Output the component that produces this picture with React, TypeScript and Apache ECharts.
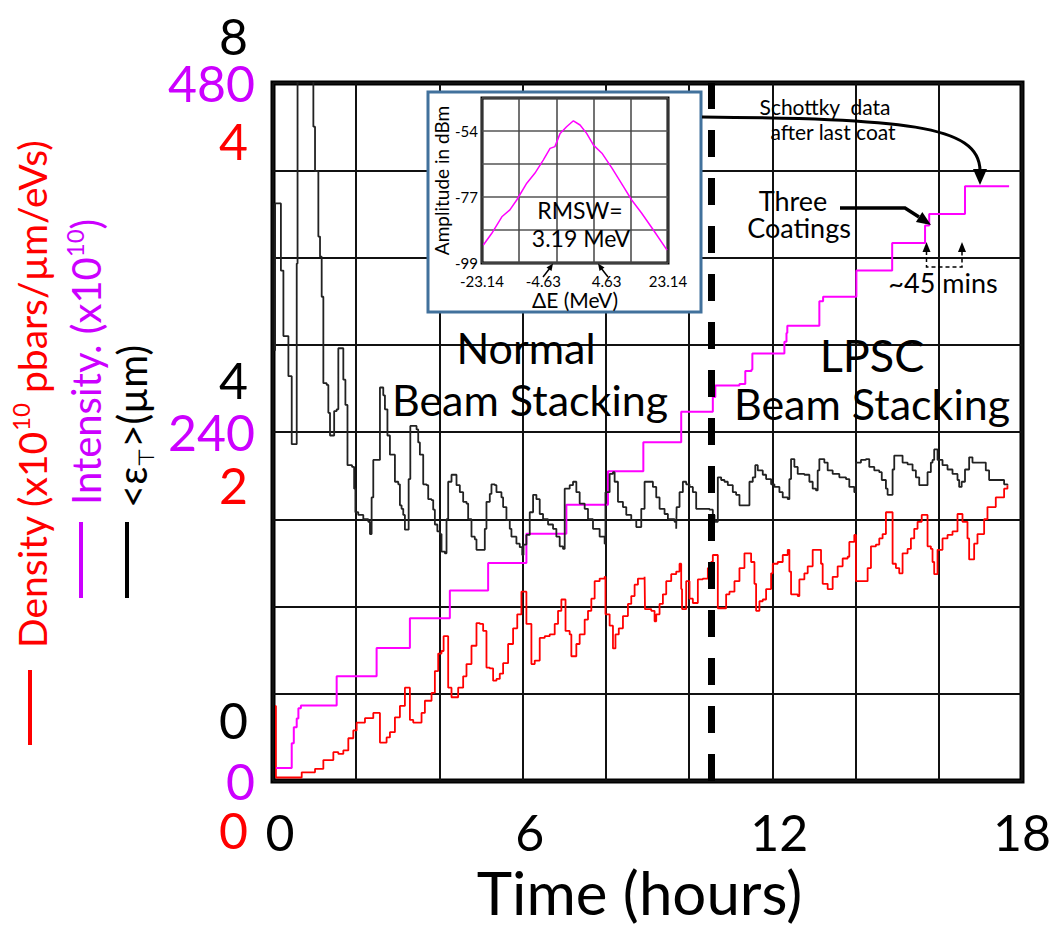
import React, { useEffect, useRef } from 'react';
import * as echarts from 'echarts';

const FONT = 'Lato, "Open Sans", sans-serif';

// ---- main chart ticks ----
const timeTickLabels = [0, 6, 12, 18];
const densityTickLabels = [0, 2, 4];
const intensityTickLabels = [0, 240, 480];
const emittanceTickLabels = [0, 4, 8];

// ---- main chart traces: [hours, value] ----
const densityTrace: [number, number][] = [
  [0.05, 0.43], [0.07, 0.02], [0.43, 0.02], [0.69, 0.05], [1.01, 0.07], [1.21, 0.12], [1.45, 0.165], [1.57, 0.155],
  [1.69, 0.175], [1.81, 0.245], [1.93, 0.29], [2.01, 0.335], [2.21, 0.36], [2.41, 0.39], [2.51, 0.39], [2.57, 0.22],
  [2.73, 0.25], [2.81, 0.28], [2.93, 0.365], [3.05, 0.43], [3.17, 0.535], [3.25, 0.535], [3.29, 0.35], [3.37, 0.335],
  [3.49, 0.335], [3.57, 0.39], [3.65, 0.46], [3.81, 0.505], [3.89, 0.63], [3.97, 0.73], [4.05, 0.745], [4.1, 0.83],
  [4.17, 0.83], [4.21, 0.535], [4.29, 0.48], [4.37, 0.48], [4.45, 0.535], [4.57, 0.6], [4.65, 0.67], [4.77, 0.775],
  [4.89, 0.905], [4.97, 0.9], [5.05, 0.86], [5.13, 0.65], [5.21, 0.645], [5.29, 0.575], [5.37, 0.585], [5.45, 0.615],
  [5.53, 0.675], [5.65, 0.785], [5.77, 0.875], [5.87, 0.955], [5.97, 1.085], [6.03, 1.085], [6.09, 0.9], [6.21, 0.67],
  [6.29, 0.69], [6.41, 0.82], [6.53, 0.83], [6.65, 0.84], [6.77, 0.9], [6.85, 0.975], [6.93, 1.04], [6.98, 1.04],
  [7.03, 0.86], [7.13, 0.84], [7.17, 0.715], [7.25, 0.715], [7.29, 0.785], [7.37, 0.84], [7.49, 0.925], [7.57, 0.975],
  [7.65, 1.045], [7.73, 1.145], [7.85, 1.16], [7.97, 1.17], [7.99, 0.955], [8.09, 0.89], [8.17, 0.76], [8.23, 0.84],
  [8.31, 0.875], [8.41, 0.945], [8.53, 1.015], [8.61, 1.06], [8.69, 1.125], [8.77, 1.16], [8.93, 1.17], [8.94, 0.985],
  [9.09, 0.975], [9.17, 0.915], [9.21, 0.955], [9.29, 1.015], [9.37, 1.07], [9.45, 1.145], [9.57, 1.185], [9.69, 1.2],
  [9.77, 1.245], [9.81, 1.1], [9.83, 0.985], [9.89, 0.985], [9.93, 1.145], [10.01, 1.045], [10.09, 1.02], [10.17, 1.02],
  [10.21, 1.155], [10.33, 1.16], [10.45, 1.22], [10.53, 1.255], [10.57, 1.295], [10.67, 1.295], [10.69, 0.99], [10.81, 0.99],
  [10.89, 1.07], [10.97, 1.085], [11.09, 1.145], [11.21, 1.22], [11.33, 1.305], [11.41, 1.305], [11.49, 1.255], [11.57, 1.13],
  [11.61, 0.975], [11.69, 1.03], [11.77, 1.04], [11.85, 1.1], [11.97, 1.19], [12.01, 1.245], [12.13, 1.255], [12.25, 1.295],
  [12.37, 1.325], [12.41, 1.2], [12.45, 1.07], [12.61, 1.06], [12.65, 1.155], [12.77, 1.19], [12.85, 1.23], [12.97, 1.325],
  [13.09, 1.325], [13.17, 1.245], [13.21, 1.13], [13.33, 1.1], [13.37, 1.1], [13.45, 1.17], [13.57, 1.23], [13.69, 1.275],
  [13.81, 1.285], [13.85, 1.37], [13.97, 1.41], [14.01, 1.145], [14.25, 1.145], [14.29, 1.22], [14.37, 1.345], [14.49, 1.355],
  [14.57, 1.39], [14.65, 1.415], [14.73, 1.54], [14.85, 1.54], [14.89, 1.245], [14.97, 1.22], [15.05, 1.19], [15.13, 1.305],
  [15.25, 1.33], [15.33, 1.39], [15.41, 1.445], [15.49, 1.485], [15.59, 1.525], [15.69, 1.525], [15.73, 1.345], [15.81, 1.33],
  [15.85, 1.255], [15.89, 1.185], [15.94, 1.185], [15.97, 1.325], [16.09, 1.39], [16.21, 1.41], [16.33, 1.43], [16.45, 1.53],
  [16.53, 1.53], [16.57, 1.485], [16.69, 1.39], [16.73, 1.27], [16.79, 1.27], [16.85, 1.36], [16.93, 1.415], [17.09, 1.5],
  [17.17, 1.57], [17.29, 1.57], [17.37, 1.625], [17.49, 1.625], [17.57, 1.675], [17.65, 1.695],
];

const intensityTrace: [number, number][] = [
  [0.07, 9], [0.43, 9], [0.45, 26], [0.5, 37], [0.57, 43], [0.61, 50], [0.67, 52], [1.39, 52], [1.53, 72], [2.35, 72],
  [2.49, 91.5], [3.21, 91.5], [3.29, 112], [4.11, 112], [4.25, 131], [5.05, 131], [5.17, 150], [6.0, 150], [6.09, 170],
  [6.93, 170], [7.05, 190], [7.93, 190], [8.05, 213], [8.81, 213], [8.9, 233], [9.69, 233], [9.81, 254], [10.53, 254],
  [10.57, 264], [10.63, 272], [11.21, 273], [11.35, 282], [11.5, 283], [11.52, 294], [12.24, 294], [12.29, 302],
  [12.34, 308], [12.36, 313], [13.08, 313], [13.13, 330], [13.22, 333], [13.9, 333], [14.02, 351], [14.8, 351],
  [14.88, 370], [15.62, 370], [15.67, 382], [15.77, 390], [16.46, 390], [16.63, 409], [17.69, 409],
];

const emittanceTrace: [number, number][] = [
  [0.05, 4.93], [0.05, 6.62], [0.17, 6.62], [0.19, 5.85], [0.25, 5.1], [0.33, 5.1], [0.37, 4.64], [0.43, 4.64], [0.45, 3.86],
  [0.57, 3.86], [0.57, 5.93], [0.59, 10], [0.97, 10], [0.97, 7.5], [1.01, 6.99], [1.05, 6.99], [1.09, 6.24], [1.13, 6.01],
  [1.17, 5.55], [1.21, 4.56], [1.29, 4.54], [1.33, 4.22], [1.37, 3.96], [1.45, 3.96], [1.47, 4.24], [1.53, 4.26], [1.57, 4.96],
  [1.66, 4.96], [1.69, 4.6], [1.74, 4.31], [1.79, 3.62], [1.9, 3.6], [1.95, 3.35], [1.98, 3.08], [2.05, 3.05], [2.17, 3.0],
  [2.29, 2.97], [2.33, 2.83], [2.37, 3.25], [2.41, 3.68], [2.49, 3.68], [2.57, 4.51], [2.61, 4.51], [2.65, 4.42], [2.69, 4.26],
  [2.75, 3.96], [2.81, 3.74], [2.89, 3.74], [2.93, 3.43], [3.01, 3.4], [3.05, 3.16], [3.09, 3.12], [3.13, 3.05], [3.17, 2.88],
  [3.23, 2.88], [3.26, 3.46], [3.3, 4.07], [3.37, 4.07], [3.45, 4.03], [3.49, 3.88], [3.53, 3.74], [3.61, 3.4], [3.69, 3.39],
  [3.73, 3.23], [3.81, 3.22], [3.85, 3.11], [3.89, 2.94], [3.95, 2.86], [4.01, 2.83], [4.05, 2.63], [4.13, 2.61], [4.17, 3.0],
  [4.21, 3.43], [4.29, 3.51], [4.37, 3.51], [4.41, 3.39], [4.49, 3.31], [4.57, 3.2], [4.65, 3.18], [4.69, 3.0], [4.77, 2.8],
  [4.85, 2.77], [4.89, 2.65], [5.05, 2.65], [5.09, 2.89], [5.13, 3.2], [5.21, 3.29], [5.25, 3.4], [5.33, 3.39], [5.37, 3.31],
  [5.49, 3.25], [5.53, 3.14], [5.61, 2.99], [5.69, 2.89], [5.73, 2.8], [5.85, 2.72], [5.93, 2.68], [5.99, 2.59], [6.02, 2.71],
  [6.09, 2.82], [6.17, 3.08], [6.25, 3.28], [6.33, 3.23], [6.41, 3.06], [6.49, 3.0], [6.61, 2.94], [6.73, 2.89], [6.81, 2.8],
  [6.89, 2.69], [6.97, 2.66], [7.01, 3.35], [7.13, 3.39], [7.21, 3.43], [7.29, 3.31], [7.37, 3.18], [7.49, 3.12], [7.57, 3.0],
  [7.69, 2.89], [7.85, 2.8], [7.97, 2.72], [7.99, 3.31], [8.09, 3.52], [8.17, 3.54], [8.21, 3.43], [8.29, 3.2], [8.41, 3.14],
  [8.49, 3.05], [8.61, 2.99], [8.73, 2.91], [8.79, 2.91], [8.85, 3.12], [8.93, 3.43], [9.01, 3.43], [9.13, 3.37], [9.21, 3.25],
  [9.29, 3.12], [9.41, 3.06], [9.49, 3.0], [9.65, 2.97], [9.69, 2.89], [9.7, 3.14], [9.77, 3.31], [9.85, 3.43], [9.93, 3.4],
  [10.01, 3.37], [10.09, 3.31], [10.17, 3.12], [10.49, 3.11], [10.57, 3.05], [10.61, 2.97], [10.69, 3.48], [10.77, 3.45],
  [10.85, 3.43], [10.93, 3.39], [11.05, 3.31], [11.13, 3.28], [11.21, 3.16], [11.37, 3.16], [11.45, 3.43], [11.53, 3.48],
  [11.59, 3.62], [11.65, 3.56], [11.77, 3.51], [11.85, 3.46], [11.97, 3.4], [12.05, 3.37], [12.17, 3.31], [12.25, 3.25],
  [12.37, 3.23], [12.41, 3.46], [12.45, 3.69], [12.53, 3.6], [12.61, 3.52], [12.77, 3.51], [12.89, 3.43], [12.97, 3.35],
  [13.05, 3.33], [13.09, 3.56], [13.13, 3.69], [13.25, 3.65], [13.33, 3.56], [13.45, 3.52], [13.61, 3.48], [13.77, 3.46],
  [13.85, 3.37], [13.97, 3.31], [14.01, 3.65], [14.13, 3.68], [14.25, 3.69], [14.33, 3.6], [14.45, 3.56], [14.57, 3.54],
  [14.63, 3.45], [14.73, 3.35], [14.77, 3.28], [14.85, 3.28], [14.89, 3.57], [14.93, 3.73], [15.05, 3.73], [15.13, 3.65],
  [15.25, 3.63], [15.37, 3.56], [15.45, 3.48], [15.53, 3.39], [15.69, 3.39], [15.73, 3.54], [15.81, 3.65], [15.85, 3.68],
  [15.89, 3.8], [15.93, 3.8], [15.97, 3.68], [16.09, 3.62], [16.21, 3.57], [16.33, 3.52], [16.45, 3.45], [16.49, 3.37],
  [16.55, 3.43], [16.63, 3.57], [16.73, 3.71], [16.81, 3.65], [17.01, 3.65], [17.13, 3.56], [17.21, 3.45], [17.45, 3.45],
  [17.57, 3.4], [17.65, 3.39],
];

const lpscStartHour = 10.54;

// ---- inset (Schottky spectrum) ----
const insetHalfSpan = 23.14;
const insetXTickLabels = ['-23.14', '', '-4.63', '4.63', '', '23.14'];
const insetYTickLabels = ['-99', '', '-77', '', '-54', ''];
const insetDeltaE = [-22.8, -20.7, -18.2, -16.2, -14.5, -12.0, -10.0, -7.9, -6.2, -5.0, -3.7, -2.1, -0.4, 1.25, 2.9, 4.6, 6.7, 9.2, 12.1, 14.1, 16.6, 19.5, 22.9];
const insetAmplitude = [-93.0, -89.1, -83.6, -81.3, -78.0, -72.4, -69.1, -64.7, -60.8, -60.2, -55.8, -53.6, -51.6, -53.0, -55.8, -59.7, -62.4, -67.4, -73.6, -78.0, -82.4, -88.0, -94.7];

const near = (list: number[], v: number) => list.some((t) => Math.abs(t - v) < 1e-6);

function txt(text: string, x: number, y: number, size: number, extra: any = {}) {
  const align = extra.align || 'center';
  return {
    type: 'text',
    x,
    y,
    z: extra.z ?? 30,
    silent: true,
    rotation: extra.rotation || 0,
    style: {
      text,
      fill: extra.fill || '#000',
      fontSize: size,
      fontFamily: FONT,
      align,
      verticalAlign: 'middle',
      textAlign: align,
      textVerticalAlign: 'middle',
      rich: extra.rich,
    },
  };
}

function richTitle(color: string, size: number, smallSize: number, smallAlign: 'top' | 'bottom') {
  return {
    n: { fontSize: size, fontFamily: FONT, fill: color, lineHeight: size * 1.2 },
    s: { fontSize: smallSize, fontFamily: FONT, fill: color, lineHeight: smallSize * 1.1, verticalAlign: smallAlign },
  };
}

// stacked tick-label styles: each label is a two-line block whose empty line
// pushes the digit above (black) or below (red) the shared grid line
function stackedRich(color: string, values: number[], shifts: number[]) {
  const rich: any = {};
  values.forEach((v, i) => {
    rich['t' + v] = { fontSize: 50, fontFamily: FONT, color, lineHeight: shifts[i] * 2, align: 'right' };
  });
  return rich;
}
const emittanceShift = [61, 52, 47];
const densityShift = [49, 53, 58];

export default function App() {
  const ref = useRef<HTMLDivElement>(null);

  useEffect(() => {
    if (!ref.current) return;
    const chart = echarts.init(ref.current, undefined, { renderer: 'svg' });

    const graphics: any[] = [
      // inset frame
      { type: 'rect', z: 10, silent: true, shape: { x: 428, y: 92, width: 273, height: 220 }, style: { fill: '#fff', stroke: '#41719C', lineWidth: 3 } },
      txt('RMSW=', 580, 210, 23),
      txt('3.19 MeV', 581, 238, 23),
      { type: 'polyline', z: 30, silent: true, shape: { points: [[543, 277], [550, 268]] }, style: { stroke: '#000', lineWidth: 1.5, fill: 'none' } },
      { type: 'polygon', z: 30, silent: true, shape: { points: [[546.5, 267.5], [551.5, 271], [553, 263.5]] }, style: { fill: '#000' } },
      { type: 'polyline', z: 30, silent: true, shape: { points: [[608, 277], [601, 268]] }, style: { stroke: '#000', lineWidth: 1.5, fill: 'none' } },
      { type: 'polygon', z: 30, silent: true, shape: { points: [[604.5, 267.5], [599.5, 271], [598, 263.5]] }, style: { fill: '#000' } },
      // region labels
      txt('Normal', 526, 347, 43, { z: 5 }),
      txt('Beam Stacking', 530, 399, 43, { z: 5 }),
      txt('LPSC', 872, 355, 45, { z: 5 }),
      txt('Beam Stacking', 872, 403, 43, { z: 5 }),
      // Schottky annotation
      txt('Schottky  data', 825, 106, 21),
      txt('after last coat', 833, 131, 21),
      { type: 'bezierCurve', z: 30, silent: true, shape: { x1: 702, y1: 117, cpx1: 900, cpy1: 119, cpx2: 980, cpy2: 124, x2: 980, y2: 171 }, style: { stroke: '#000', lineWidth: 3, fill: 'none' } },
      { type: 'polygon', z: 30, silent: true, shape: { points: [[973, 169], [987, 169], [980, 185]] }, style: { fill: '#000' } },
      // Three coatings
      txt('Three', 793, 200, 27),
      txt('Coatings', 799, 227, 27),
      { type: 'polyline', z: 30, silent: true, shape: { points: [[840, 208], [905, 208], [919, 217]] }, style: { stroke: '#000', lineWidth: 3.5, fill: 'none' } },
      { type: 'polygon', z: 30, silent: true, shape: { points: [[915.9, 222.1], [922.3, 211.9], [931, 225]] }, style: { fill: '#000' } },
      // ~45 mins
      { type: 'polyline', z: 30, silent: true, shape: { points: [[926.5, 251], [926.5, 267], [962, 267], [962, 251]] }, style: { stroke: '#000', lineWidth: 1.5, lineDash: [4, 3], fill: 'none' } },
      { type: 'polygon', z: 30, silent: true, shape: { points: [[922.5, 252], [930.5, 252], [926.5, 242]] }, style: { fill: '#000' } },
      { type: 'polygon', z: 30, silent: true, shape: { points: [[958, 252], [966, 252], [962, 242]] }, style: { fill: '#000' } },
      txt('~45 mins', 943, 282, 27),
      // left axis titles with legend dashes
      { type: 'line', z: 30, silent: true, shape: { x1: 30, y1: 670, x2: 30, y2: 745 }, style: { stroke: '#FF0000', lineWidth: 4 } },
      { type: 'line', z: 30, silent: true, shape: { x1: 81, y1: 522, x2: 81, y2: 598 }, style: { stroke: '#CC00FF', lineWidth: 4 } },
      { type: 'line', z: 30, silent: true, shape: { x1: 127, y1: 522, x2: 127, y2: 598 }, style: { stroke: '#000', lineWidth: 4 } },
      txt('{n|Density (x10}{s|10}{n| pbars/µm/eVs)}', 32, 648, 39, { align: 'left', rotation: Math.PI / 2, rich: richTitle('#FF0000', 39, 24, 'top') }),
      txt('{n|Intensity. (x10}{s|10}{n|)}', 86, 505, 40, { align: 'left', rotation: Math.PI / 2, rich: richTitle('#CC00FF', 40, 24, 'top') }),
      txt('{n|<ε}{s|⊤}{n|>(µm)}', 132, 508, 40, { align: 'left', rotation: Math.PI / 2, rich: richTitle('#000', 40, 22, 'bottom') }),
    ];

    const option: any = {
      animation: false,
      backgroundColor: '#fff',
      grid: [
        { left: 273, top: 77, width: 750, height: 704, show: true, borderColor: '#000', borderWidth: 5, backgroundColor: 'transparent' },
        { left: 482, top: 98, width: 186, height: 165, show: true, borderColor: '#000', borderWidth: 3, backgroundColor: '#fff', z: 20 },
      ],
      xAxis: [
        {
          gridIndex: 0, type: 'value', min: 0, max: 18, interval: 2,
          axisLine: { show: false }, axisTick: { show: false },
          splitLine: { show: true, lineStyle: { color: '#111', width: 2 } },
          axisLabel: {
            formatter: (v: number) => {
              if (!near(timeTickLabels, v)) return '';
              return v < 18 ? `{s|${v}}` : String(v);
            },
            rich: { s: { fontSize: 50, fontFamily: FONT, color: '#000', padding: [0, 0, 0, 14] } },
            fontSize: 50, fontFamily: FONT, color: '#000', margin: 26,
          },
          name: 'Time (hours)', nameLocation: 'middle', nameGap: 78,
          nameTextStyle: { fontSize: 60, fontFamily: FONT, color: '#000', padding: [0, 16, 0, 0] },
        },
        {
          gridIndex: 1, type: 'value', min: 0, max: 2 * insetHalfSpan, interval: (2 * insetHalfSpan) / 5, z: 21,
          axisLine: { show: false }, axisTick: { show: false },
          splitLine: { show: true, lineStyle: { color: '#444', width: 1.5 } },
          axisLabel: {
            margin: 10, fontSize: 15, fontFamily: FONT, color: '#000',
            formatter: (_v: number, i: number) => {
              const s = insetXTickLabels[i] ?? '';
              if (i === 2) return `{l|${s}}`;
              if (i === 3) return `{r|${s}}`;
              return s;
            },
            rich: {
              l: { fontSize: 15, fontFamily: FONT, color: '#000', padding: [0, 26, 0, 0] },
              r: { fontSize: 15, fontFamily: FONT, color: '#000', padding: [0, 0, 0, 26] },
            },
          },
          name: 'ΔE (MeV)', nameLocation: 'middle', nameGap: 26,
          nameTextStyle: { fontSize: 21, fontFamily: FONT, color: '#000' },
        },
      ],
      yAxis: [
        {
          gridIndex: 0, type: 'value', min: 0, max: 4, interval: 0.5, position: 'left',
          axisLine: { show: false }, axisTick: { show: false }, splitLine: { show: false },
          axisLabel: {
            formatter: (v: number) => (near(densityTickLabels, v) ? `{t${v}| }\n{t${v}|${v}}` : ''),
            rich: stackedRich('#FF0000', densityTickLabels, densityShift),
            color: '#FF0000', fontSize: 50, fontFamily: FONT, margin: 25,
          },
        },
        {
          gridIndex: 0, type: 'value', min: 0, max: 480, interval: 60, position: 'left',
          axisLine: { show: false }, axisTick: { show: false },
          splitLine: { show: true, lineStyle: { color: '#111', width: 2 } },
          axisLabel: { formatter: (v: number) => (near(intensityTickLabels, v) ? String(v) : ''), color: '#CC00FF', fontSize: 50, fontFamily: FONT, margin: 18 },
        },
        {
          gridIndex: 0, type: 'value', min: 0, max: 8, interval: 1, position: 'left',
          axisLine: { show: false }, axisTick: { show: false }, splitLine: { show: false },
          axisLabel: {
            formatter: (v: number) => (near(emittanceTickLabels, v) ? `{t${v}|${v}}\n{t${v}| }` : ''),
            rich: stackedRich('#000', emittanceTickLabels, emittanceShift),
            color: '#000', fontSize: 50, fontFamily: FONT, margin: 25,
          },
        },
        {
          gridIndex: 1, type: 'value', min: -99, max: -44, interval: 11, z: 21,
          axisLine: { show: false }, axisTick: { show: false },
          splitLine: { show: true, lineStyle: { color: '#555', width: 1.5 } },
          axisLabel: { formatter: (_v: number, i: number) => insetYTickLabels[i] ?? '', fontSize: 15, fontFamily: FONT, color: '#000', margin: 4 },
          name: 'Amplitude in dBm', nameLocation: 'middle', nameGap: 31,
          nameTextStyle: { fontSize: 19, fontFamily: FONT, color: '#000' },
        },
      ],
      series: [
        {
          type: 'line', name: 'Density', xAxisIndex: 0, yAxisIndex: 0, data: densityTrace, step: 'end',
          symbol: 'none', lineStyle: { color: '#FF0000', width: 1.8 }, z: 3,
        },
        {
          type: 'line', name: 'Intensity', xAxisIndex: 0, yAxisIndex: 1, data: intensityTrace, step: 'end',
          symbol: 'none', lineStyle: { color: '#FF00FF', width: 2 }, z: 3,
        },
        {
          type: 'line', name: 'Emittance', xAxisIndex: 0, yAxisIndex: 2, data: emittanceTrace, step: 'end',
          symbol: 'none', lineStyle: { color: '#222', width: 1.8 }, z: 3,
          markLine: {
            silent: true, symbol: ['none', 'none'], label: { show: false }, emphasis: { disabled: true },
            lineStyle: { color: '#000', width: 7, type: [27, 21], cap: 'butt' },
            data: [{ xAxis: lpscStartHour }],
          },
        },
        {
          type: 'line', name: 'Schottky', xAxisIndex: 1, yAxisIndex: 3,
          data: insetDeltaE.map((d, i) => [d + insetHalfSpan, insetAmplitude[i]]),
          symbol: 'none', lineStyle: { color: '#FF00FF', width: 1.5 }, z: 22,
        },
      ],
      graphic: { elements: graphics },
    };

    chart.setOption(option);
    return () => chart.dispose();
  }, []);

  return <div ref={ref} style={{ position: 'absolute', left: 0, top: 0, width: 1054, height: 936 }} />;
}
